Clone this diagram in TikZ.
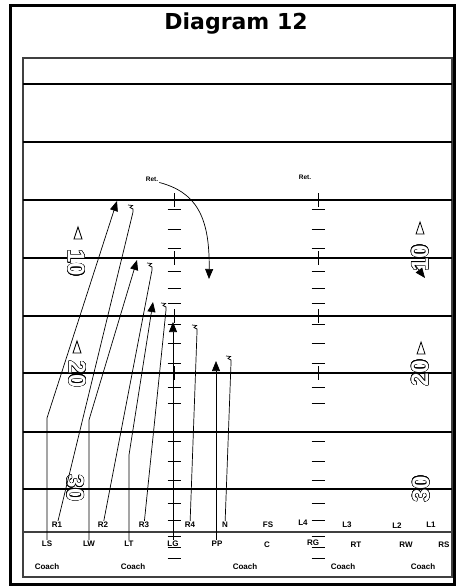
\documentclass[tikz,border=0pt]{standalone}
\usepackage{fontspec}
\setmainfont{Liberation Sans}
\newfontfamily\titlefont{DejaVu Sans}
\usepackage{contour}
\contourlength{0.5pt}
\usetikzlibrary{arrows.meta}

\begin{document}
\begin{tikzpicture}[x=1pt,y=-1pt]

  \tikzstyle{yard}=[line width=1.5pt]
  \tikzstyle{scrim}=[line width=1.5pt,draw=gray!50!black]
  \tikzstyle{hash}=[line width=1pt]
  \tikzstyle{route}=[line width=0.7pt]
  \tikzstyle{tip}=[-{Triangle[width=8pt,length=10pt]}]
  \tikzstyle{player}=[inner sep=1pt,font=\bfseries\fontsize{8}{9}\selectfont]
  \tikzstyle{small}=[inner sep=1pt,font=\bfseries\fontsize{6.5}{7}\selectfont]
  \tikzstyle{yardnum}=[inner sep=0pt,font=\bfseries\fontsize{24}{24}\selectfont]
  \tikzstyle{marker}=[line width=0.8pt]

  % ====================
  % Parameters
  % ====================
  \def\hashL{174}  % Left hash column
  \def\hashR{318}  % Right hash column
  \def\hashw{6.5}  % Half width of a hash mark
  \def\tickh{7}    % Half height of the tick on a yard line
  % ====================

  \useasboundingbox (0,0) rectangle (456,588);

  % ====================
  % Frame and title
  % ====================
  \draw[line width=3pt] (10.5,5.5) rectangle (454.5,584);
  \node (title) at (236,24) {\titlefont\bfseries\fontsize{22}{24}\selectfont Diagram 12};

  % ====================
  % Field
  % ====================
  \draw[scrim] (23,58) rectangle (452,577);
  \foreach \y in {84,142,200,258,316,373,432,489}
    \draw[yard] (23,\y) -- (452,\y);
  \draw[scrim] (23,532) -- (452,532);

  % Hash marks
  \foreach \y in {209,229,248,271,288,303,324,343,363,387,403,441,461,480,503,520,536,547,558}{
    \draw[hash] (\hashL-\hashw,\y) -- (\hashL+\hashw,\y);
    \draw[hash] (\hashR-\hashw,\y) -- (\hashR+\hashw,\y);
  }
  \foreach \y in {200,258,316,373}{
    \draw[hash] (\hashL,\y-\tickh) -- (\hashL,\y+\tickh);
    \draw[hash] (\hashR,\y-\tickh) -- (\hashR,\y+\tickh);
  }

  % Yard numbers
  \node[yardnum,rotate=-90] (numLa) at (76,263) {\contour{black}{\textcolor{white}{10}}};
  \node[yardnum,rotate=-90] (numLb) at (77,374) {\contour{black}{\textcolor{white}{20}}};
  \node[yardnum,rotate=-90] (numLc) at (75,488) {\contour{black}{\textcolor{white}{30}}};
  \node[yardnum,rotate=90] (numRa) at (420,258) {\contour{black}{\textcolor{white}{10}}};
  \node[yardnum,rotate=90] (numRb) at (420,373) {\contour{black}{\textcolor{white}{20}}};
  \node[yardnum,rotate=90] (numRc) at (421,489) {\contour{black}{\textcolor{white}{30}}};
  \foreach \x/\y in {78/233,77/347,420/228,421/348}
    \draw[marker] (\x-4,\y+6) -- (\x,\y-6) -- (\x+4,\y+6) -- cycle;

  % ====================
  % Players
  % ====================
  \node[player] (R1) at (57,525) {R1};
  \node[player] (R2) at (103,525) {R2};
  \node[player] (R3) at (144,525) {R3};
  \node[player] (R4) at (190,525) {R4};
  \node[player] (N)  at (225,525) {N};
  \node[player] (FS) at (268,525) {FS};
  \node[player] (L4) at (303,523) {L4};
  \node[player] (L3) at (347,525) {L3};
  \node[player] (L2) at (397,526) {L2};
  \node[player] (L1) at (431,525) {L1};

  \node[player] (LS) at (47,544) {LS};
  \node[player] (LW) at (89,544) {LW};
  \node[player] (LT) at (129,544) {LT};
  \node[player] (LG) at (173,544) {LG};
  \node[player] (PP) at (217,544) {PP};
  \node[player] (C)  at (267,545) {C};
  \node[player] (RG) at (313,543) {RG};
  \node[player] (RT) at (356,545) {RT};
  \node[player] (RW) at (406,545) {RW};
  \node[player] (RS) at (444,545) {RS};

  \foreach \x [count=\i] in {47,133,245,343,423}
    \node[player] (coach\i) at (\x,567) {Coach};

  \node[small] (retL) at (152,179) {Ret.};
  \node[small] (retR) at (305,177) {Ret.};

  % ====================
  % Routes
  % ====================
  \coordinate (LSbend) at (47,418);   \coordinate (LStip) at (117,201);
  \coordinate (LWbend) at (89,420);   \coordinate (LWtip) at (137,260);
  \coordinate (LTbend) at (129,455);  \coordinate (LTtip) at (153,302);
  \coordinate (LGtip) at (173,322);
  \coordinate (PPtip) at (216,361);

  \draw[route,tip] (LS) -- (LSbend) -- (LStip);
  \draw[route,tip] (LW) -- (LWbend) -- (LWtip);
  \draw[route,tip] (LT) -- (LTbend) -- (LTtip);
  \draw[route,tip] (LG) -- (LGtip);
  \draw[route,tip] (PP.north -| PPtip) -- (PPtip);

  % Blocks
  \coordinate (R1end) at (133,212);
  \coordinate (R2end) at (152,270);
  \coordinate (R3end) at (166,310);
  \coordinate (R4end) at (197,332);
  \coordinate (Nend)  at (231,363);
  \foreach \p in {R1,R2,R3,R4,N}
    \draw[route] (\p) -- (\p end) -- ++(0,-3) -- ++(-3,-1.5) -- ++(2.5,-2) -- ++(-4.5,-0.5);

  % Returners
  \coordinate (retLend) at (209,279);
  \draw[route,tip] (retL.south east) .. controls (195,192) and (210,215) .. (retLend);
  \coordinate (retRa) at (415,265);
  \coordinate (retRend) at (425,278);
  \draw[route,tip] (retRa) -- (retRend);

\end{tikzpicture}
\end{document}
